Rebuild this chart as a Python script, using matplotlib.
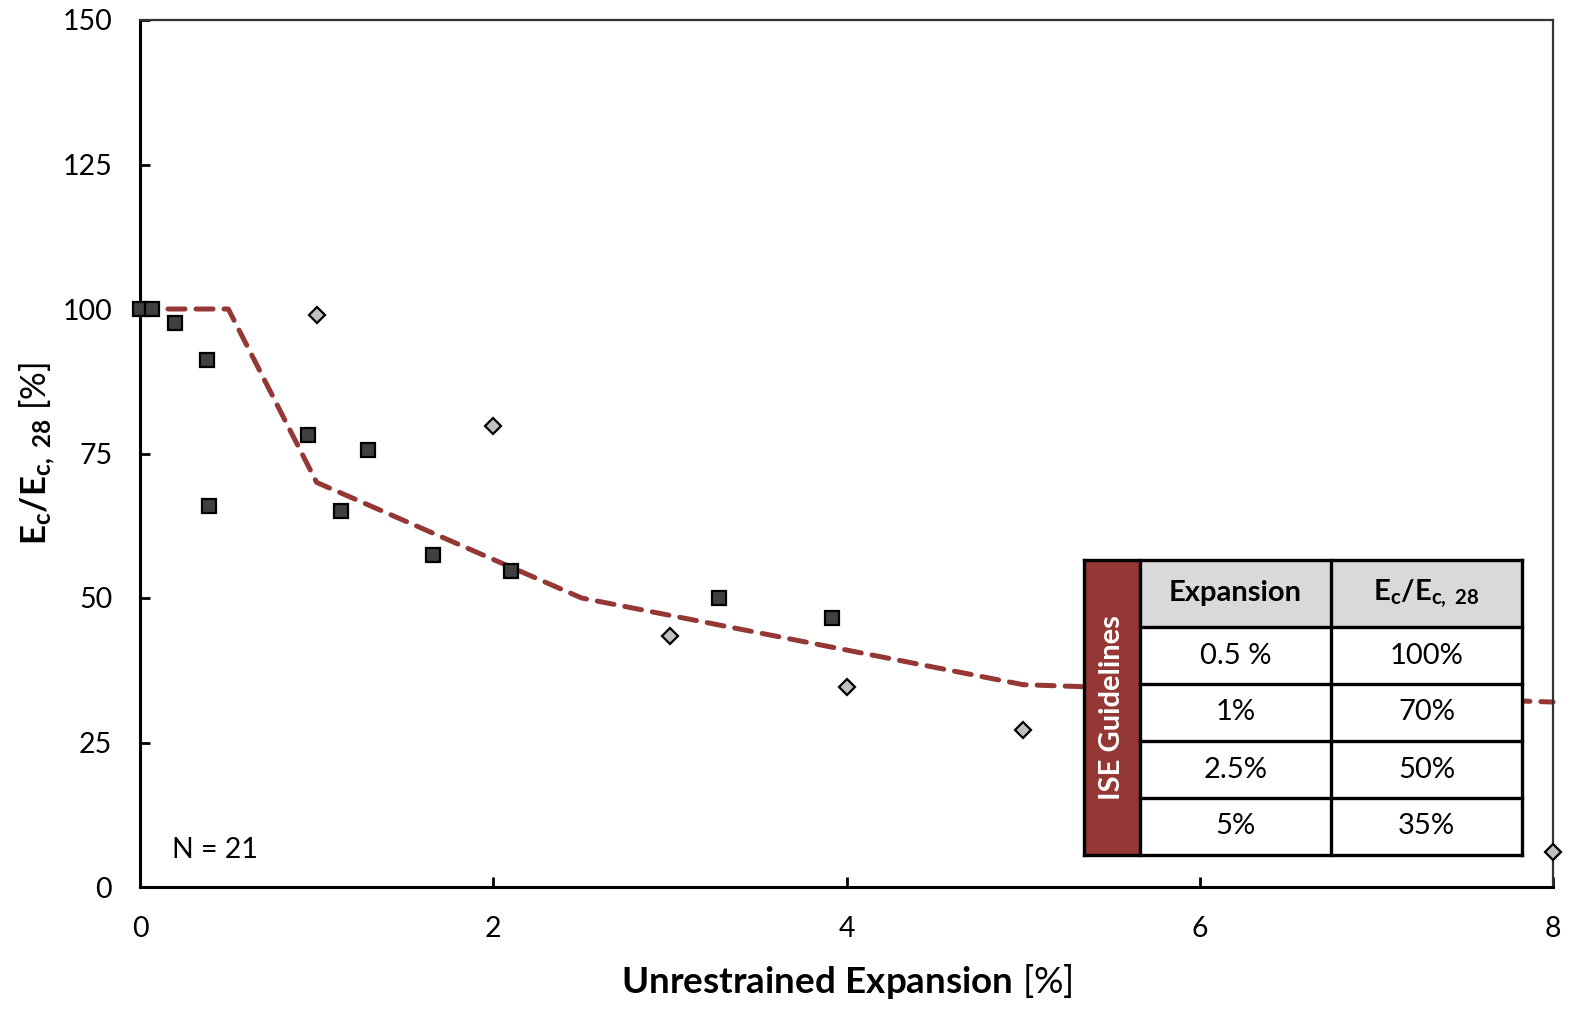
import matplotlib
matplotlib.use("Agg")
import matplotlib.pyplot as plt
from matplotlib.patches import Rectangle

plt.rcParams['font.family'] = ['Lato', 'DejaVu Sans']
plt.rcParams['mathtext.fontset'] = 'custom'
plt.rcParams['mathtext.rm'] = 'Lato'
plt.rcParams['mathtext.it'] = 'Lato:italic'
plt.rcParams['mathtext.bf'] = 'Lato:bold'

# ---- data ----
sq_x = [0.0, 0.07, 0.2, 0.38, 0.39, 0.95, 1.14, 1.29, 1.66, 2.10, 3.28, 3.92]
sq_y = [100.0, 100.0, 97.6, 91.2, 65.9, 78.2, 65.1, 75.6, 57.4, 54.7, 50.0, 46.5]
dm_x = [1.0, 2.0, 3.0, 4.0, 5.0, 8.0]
dm_y = [99.0, 79.8, 43.4, 34.6, 27.2, 6.1]
guide_x = [0.0, 0.5, 1.0, 2.5, 5.0, 8.0]
guide_y = [100, 100, 70, 50, 35, 32]
table_exp = ["0.5 %", "1%", "2.5%", "5%"]
table_ratio = ["100%", "70%", "50%", "35%"]
n_text = "N = 21"
xticks = [0, 2, 4, 6, 8]
yticks = [0, 25, 50, 75, 100, 125, 150]

RED = '#953735'
W, H = 1581, 1009
fig = plt.figure(figsize=(W / 100, H / 100), dpi=100)
ax = fig.add_axes([140 / W, 1 - 887 / H, (1553 - 140) / W, (887 - 20) / H])

ax.plot(guide_x, guide_y, color=RED, lw=3.6, dashes=(3.4, 2.2),
        dash_capstyle='round', solid_joinstyle='round', zorder=2, clip_on=False)
ax.plot(sq_x, sq_y, ls='none', marker='s', ms=10.5, mfc='#404040', mec='black',
        mew=1.6, zorder=3, clip_on=False)
ax.plot(dm_x, dm_y, ls='none', marker='D', ms=7.8, mfc='#c0c0c0', mec='black',
        mew=1.6, zorder=3, clip_on=False)

ax.set_xlim(0, 8)
ax.set_ylim(0, 150)
ax.set_xticks(xticks)
ax.set_yticks(yticks)
ax.tick_params(direction='in', length=7, width=2, labelsize=20.5)
ax.tick_params(axis='y', pad=20)
ax.tick_params(axis='x', pad=21)
for s in ['left', 'bottom']:
    ax.spines[s].set_linewidth(2.2)
for s in ['top', 'right']:
    ax.spines[s].set_linewidth(1.6)
    ax.spines[s].set_color('#333333')

ax.set_xlabel(r'$\mathbf{Unrestrained\ Expansion}$ [%]', fontsize=26.5, labelpad=14)
ax.set_ylabel(r'$\mathbf{E_c/E_{c,\ 28}}$ [%]', fontsize=25, labelpad=3)

ax.text(0.18, 6.4, n_text, fontsize=20.5, va='center', ha='left')

# ---- table (inset axes in pixel units) ----
tx0, ty0, tx1, ty1 = 1084, 560, 1522, 855
tax = fig.add_axes([tx0 / W, 1 - ty1 / H, (tx1 - tx0) / W, (ty1 - ty0) / H])
tax.set_xlim(0, tx1 - tx0)
tax.set_ylim(ty1 - ty0, 0)
tax.axis('off')
c0, c1, c2, c3 = 0, 56, 247, 438
rows = [0, 67, 124, 181, 238, 295]
tax.add_patch(Rectangle((c0, 0), c1 - c0, rows[-1], facecolor=RED, edgecolor='none'))
tax.add_patch(Rectangle((c1, 0), c3 - c1, rows[1], facecolor='#d9d9d9', edgecolor='none'))
tax.add_patch(Rectangle((c1, rows[1]), c3 - c1, rows[-1] - rows[1], facecolor='white', edgecolor='none'))
lw = 2.4
for r in rows:
    x_start = c0 if r in (rows[0], rows[-1]) else c1
    tax.plot([x_start, c3], [r, r], color='black', lw=lw, solid_capstyle='projecting', clip_on=False)
for c in [c0, c1, c2, c3]:
    tax.plot([c, c], [0, rows[-1]], color='black', lw=lw, solid_capstyle='projecting', clip_on=False)
tax.text((c0 + c1) / 2, rows[-1] / 2, 'ISE Guidelines', rotation=90, color='white',
         fontsize=21, fontweight='bold', ha='center', va='center')
tax.text((c1 + c2) / 2, rows[1] / 2, 'Expansion', fontsize=21, fontweight='bold',
         ha='center', va='center')
tax.text((c2 + c3) / 2, rows[1] / 2, r'$\mathbf{E_c/E_{c,\ 28}}$', fontsize=21,
         ha='center', va='center')
for i in range(4):
    ym = (rows[i + 1] + rows[i + 2]) / 2
    tax.text((c1 + c2) / 2, ym, table_exp[i], fontsize=21, ha='center', va='center')
    tax.text((c2 + c3) / 2, ym, table_ratio[i], fontsize=21, ha='center', va='center')

fig.savefig('out.png', dpi=100)
